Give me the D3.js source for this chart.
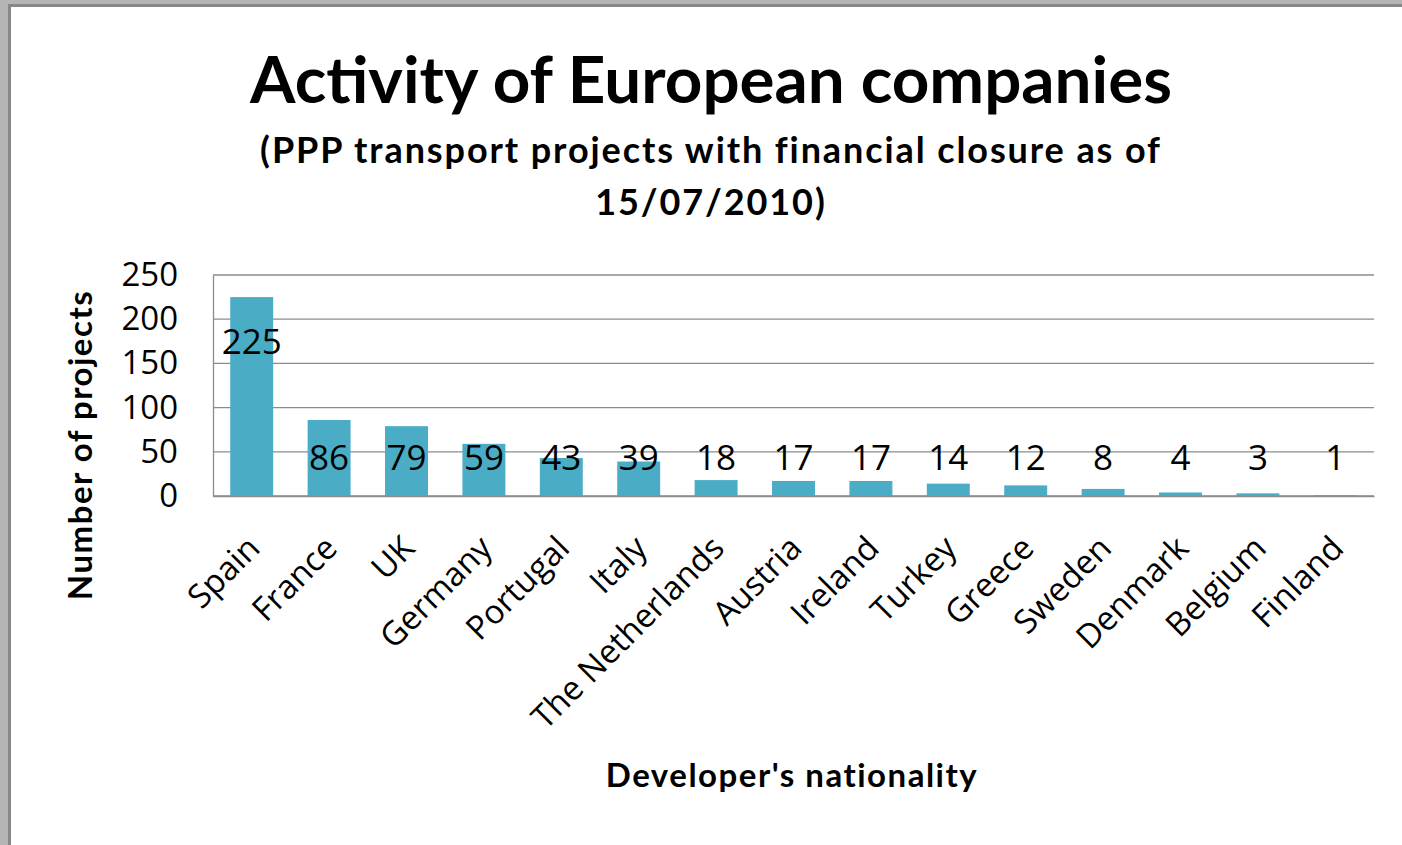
<!DOCTYPE html>
<html>
<head>
<meta charset="utf-8">
<script src="https://cdn.jsdelivr.net/npm/d3@7"></script>
<style>
  body { margin: 0; background: #b5b5b5; }
  svg { display: block; }
</style>
</head>
<body>
<div id="chart"></div>
<script>
const countries = ['Spain', 'France', 'UK', 'Germany', 'Portugal', 'Italy', 'The Netherlands',
  'Austria', 'Ireland', 'Turkey', 'Greece', 'Sweden', 'Denmark', 'Belgium', 'Finland']
const projects = [225, 86, 79, 59, 43, 39, 18, 17, 17, 14, 12, 8, 4, 3, 1]
const yTicks = [0, 50, 100, 150, 200, 250]

const width = 1402
const height = 845
const plot = { left: 213, right: 1374, top: 275, bottom: 496 }

const svg = d3.select('#chart')
  .append('svg')
  .attr('width', width)
  .attr('height', height)

// window frame
svg.append('rect').attr('width', width).attr('height', height).attr('fill', '#b5b5b5')
svg.append('rect').attr('x', 8).attr('y', 4).attr('width', width).attr('height', height).attr('fill', '#888888')
svg.append('rect').attr('x', 11).attr('y', 7).attr('width', width).attr('height', height).attr('fill', '#ffffff')

const xScale = d3.scaleBand()
  .domain(countries)
  .range([plot.left, plot.right])
  .paddingInner(0.445)
  .paddingOuter(0.2225)

const yScale = d3.scaleLinear()
  .domain([0, 250])
  .range([plot.bottom, plot.top])

// gridlines
svg.append('g')
  .selectAll('line')
  .data(yTicks)
  .enter().append('line')
  .attr('x1', plot.left)
  .attr('x2', plot.right)
  .attr('y1', d => yScale(d))
  .attr('y2', d => yScale(d))
  .attr('stroke', '#8c8c8c')
  .attr('stroke-width', 1.3)

// bars
svg.append('g')
  .selectAll('rect')
  .data(projects)
  .enter().append('rect')
  .attr('x', (d, i) => xScale(countries[i]))
  .attr('y', d => yScale(d))
  .attr('width', xScale.bandwidth())
  .attr('height', d => yScale(0) - yScale(d))
  .attr('fill', '#4bacc6')

// axes
const yAxis = d3.axisLeft(yScale).tickValues(yTicks).tickSize(0).tickPadding(35)
svg.append('g')
  .attr('transform', `translate(${plot.left},0)`)
  .call(yAxis)
  .call(g => g.select('.domain').attr('stroke', '#8c8c8c').attr('stroke-width', 1.3))
  .call(g => g.selectAll('text')
    .attr('font-family', 'Open Sans')
    .attr('font-size', 33)
    .attr('fill', '#000'))

const xAxis = d3.axisBottom(xScale).tickSize(0)
svg.append('g')
  .attr('transform', `translate(0,${plot.bottom})`)
  .call(xAxis)
  .call(g => g.select('.domain').attr('stroke', '#8c8c8c').attr('stroke-width', 1.3))
  .call(g => g.selectAll('text')
    .attr('font-family', 'Open Sans')
    .attr('font-size', 33)
    .attr('fill', '#000')
    .attr('text-anchor', 'end')
    .attr('dy', null)
    .attr('transform', 'translate(8,52) rotate(-45)'))

// data labels
svg.append('g')
  .selectAll('text')
  .data(projects)
  .enter().append('text')
  .attr('x', (d, i) => xScale(countries[i]) + xScale.bandwidth() / 2)
  .attr('y', d => Math.min(yScale(d) + 45, yScale(43)))
  .attr('dy', '0.35em')
  .attr('text-anchor', 'middle')
  .attr('font-family', 'Open Sans')
  .attr('font-size', 35)
  .attr('fill', '#000')
  .text(d => d)

// titles
svg.append('text')
  .attr('x', 711)
  .attr('y', 103)
  .attr('text-anchor', 'middle')
  .attr('font-family', 'Lato')
  .attr('font-weight', 700)
  .attr('font-size', 65.5)
  .text('Activity of European companies')

svg.append('text')
  .attr('x', 711)
  .attr('y', 163)
  .attr('text-anchor', 'middle')
  .attr('font-family', 'Lato')
  .attr('font-weight', 700)
  .attr('font-size', 36)
  .attr('letter-spacing', 1.9)
  .text('(PPP transport projects with financial closure as of')

svg.append('text')
  .attr('x', 711)
  .attr('y', 215)
  .attr('text-anchor', 'middle')
  .attr('font-family', 'Lato')
  .attr('font-weight', 700)
  .attr('font-size', 36)
  .attr('letter-spacing', 1.9)
  .text('15/07/2010)')

svg.append('text')
  .attr('transform', 'translate(92,445) rotate(-90)')
  .attr('text-anchor', 'middle')
  .attr('font-family', 'Lato')
  .attr('font-weight', 700)
  .attr('font-size', 33)
  .attr('letter-spacing', 1.5)
  .text('Number of projects')

svg.append('text')
  .attr('x', 792)
  .attr('y', 787)
  .attr('text-anchor', 'middle')
  .attr('font-family', 'Lato')
  .attr('font-weight', 700)
  .attr('font-size', 33)
  .attr('letter-spacing', 1.5)
  .text("Developer's nationality")
</script>
</body>
</html>
